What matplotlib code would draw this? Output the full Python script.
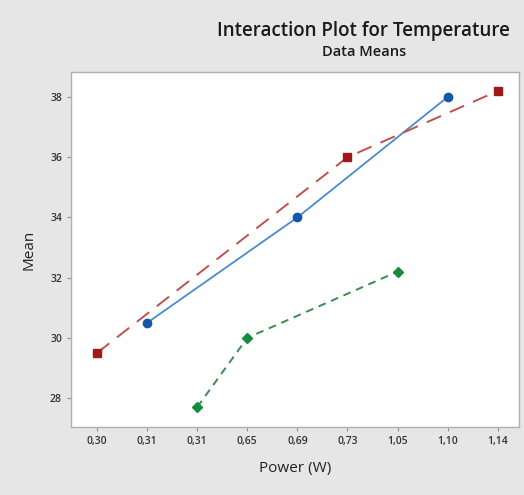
import matplotlib
matplotlib.use("Agg")
import matplotlib.pyplot as plt

# category labels along the x axis (Power, W)
power_labels = ["0,30", "0,31", "0,31", "0,65", "0,69", "0,73", "1,05", "1,10", "1,14"]

# series: category position index (1-based) and mean temperature
blue_idx = [2, 5, 8]
blue_mean = [30.5, 34.0, 38.0]
red_idx = [1, 6, 9]
red_mean = [29.5, 36.0, 38.2]
green_idx = [3, 4, 7]
green_mean = [27.7, 30.0, 32.2]

y_ticks = [28, 30, 32, 34, 36, 38]

plt.rcParams['font.family'] = ['Open Sans', 'DejaVu Sans']

fig = plt.figure(figsize=(5.24, 4.95), dpi=100)
fig.patch.set_facecolor("#e6e6e6")
ax = fig.add_axes([0.1355, 0.1374, 0.8545, 0.7171])
ax.set_facecolor("white")

ax.plot(blue_idx, blue_mean, color="#4a8ad0", lw=1.3, ls="-",
        marker="o", ms=6, mfc="#1456a8", mec="#1456a8", zorder=3)
ax.plot(red_idx, red_mean, color="#c0504d", lw=1.4, ls=(0, (8, 5)),
        marker="s", ms=5.5, mfc="#a01818", mec="#a01818", zorder=3)
ax.plot(green_idx, green_mean, color="#3c8c4c", lw=1.4, ls=(0, (4, 3)),
        marker="D", ms=5.5, mfc="#148c3c", mec="#148c3c", zorder=3)

ax.set_xlim(0.48, 9.42)
ax.set_ylim(27.04, 38.83)
ax.set_xticks(range(1, len(power_labels) + 1))
ax.set_xticklabels(power_labels)
ax.set_yticks(y_ticks)
ax.tick_params(axis="both", labelsize=7.5, colors="#909090", labelcolor="#333333",
               length=3, width=0.8)
for lab in ax.get_xticklabels() + ax.get_yticklabels():
    lab.set_fontweight("semibold")
for s in ax.spines.values():
    s.set_color("#b0b0b0")
    s.set_linewidth(1.0)

ax.set_xlabel("Power (W)", fontsize=11, color="#222222", labelpad=10)
ax.set_ylabel("Mean", fontsize=11, color="#222222", labelpad=10)

fig.text(0.694, 0.938, "Interaction Plot for Temperature", ha="center", va="center",
         fontsize=13.5, fontweight="semibold", color="#1a1a1a")
fig.text(0.694, 0.895, "Data Means", ha="center", va="center",
         fontsize=10.5, fontweight="semibold", color="#1a1a1a")

fig.savefig("out.png", dpi=100, facecolor=fig.get_facecolor())
